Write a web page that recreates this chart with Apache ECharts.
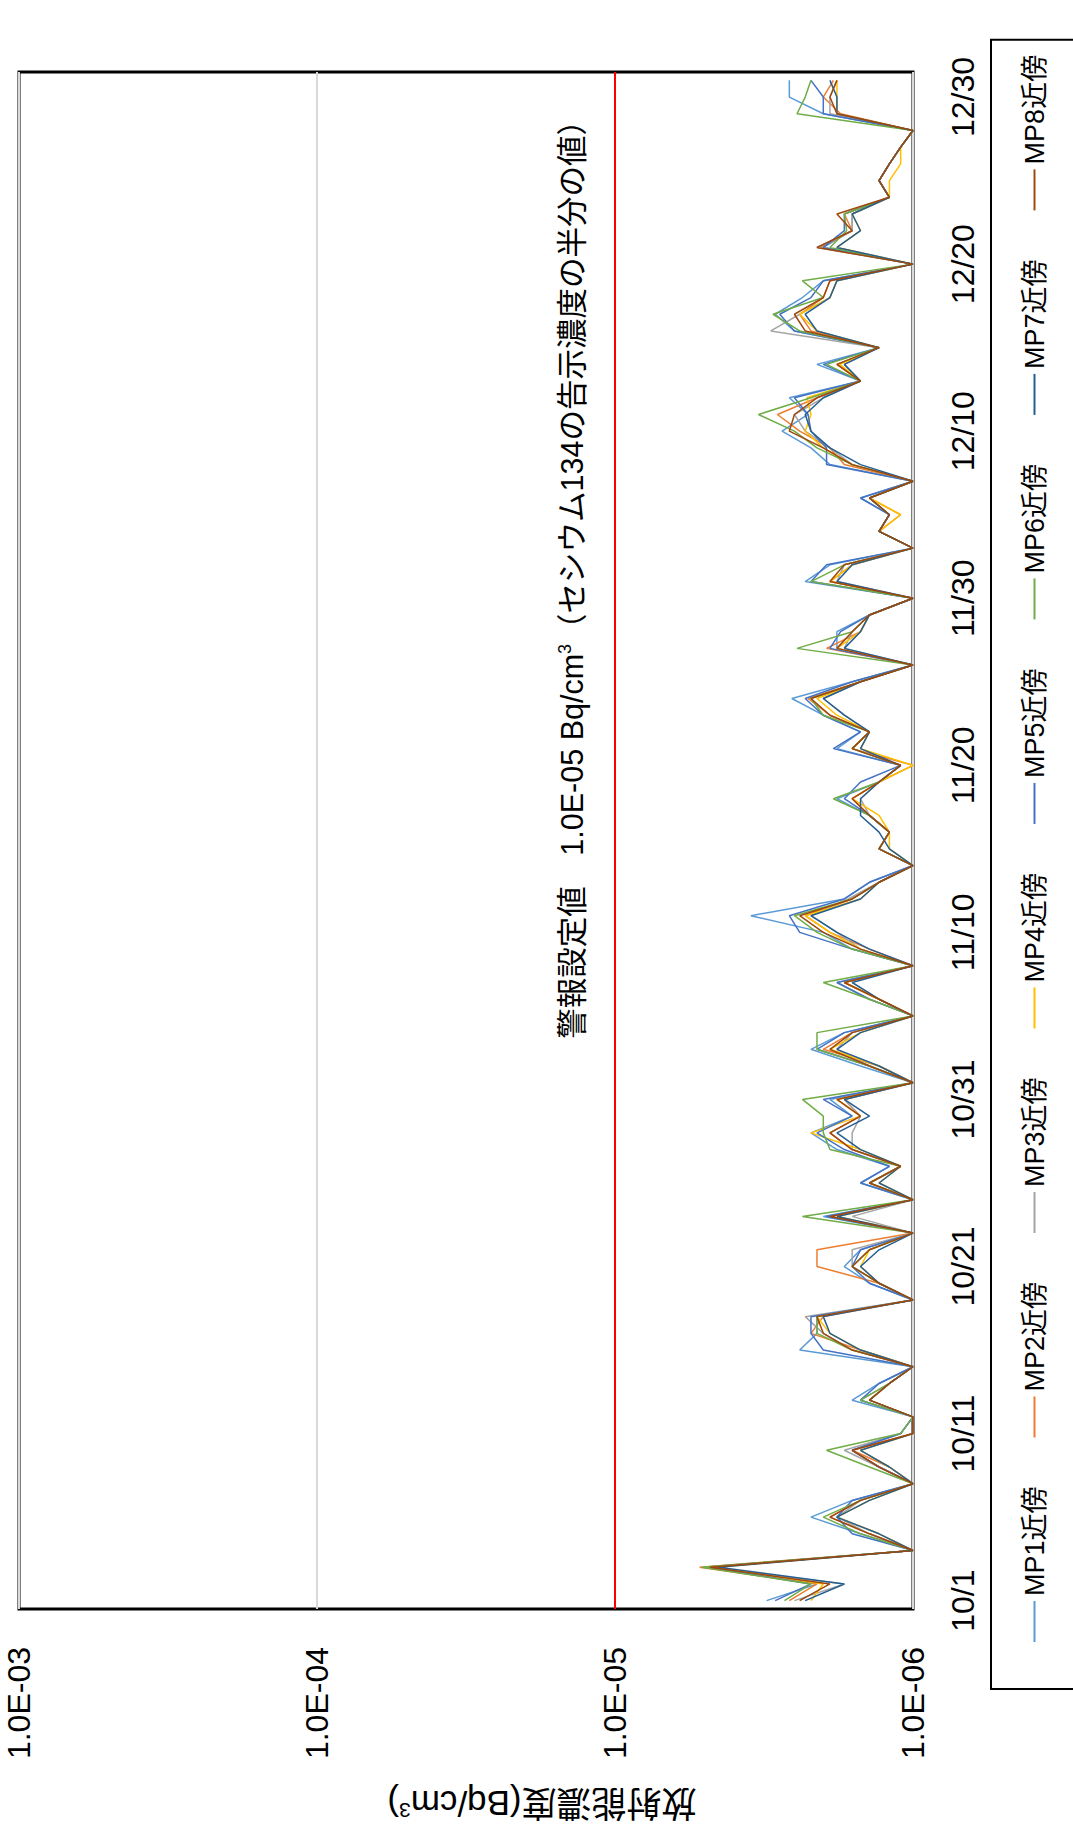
<!DOCTYPE html>
<html><head><meta charset="utf-8">
<script src="https://cdn.jsdelivr.net/npm/echarts@6/dist/echarts.min.js"></script>
<style>
html,body{margin:0;padding:0;background:#fff;width:1073px;height:1832px;overflow:hidden}
#rot{position:absolute;left:0;top:0;width:1832px;height:1073px;transform-origin:0 0;transform:translateY(1832px) rotate(-90deg)}
#chart{width:1832px;height:1073px}
</style></head><body>
<div id="rot"><div id="chart"></div></div>
<script>
// categories: daily dates 10/1 .. 12/31
const months = [[10,31],[11,30],[12,31]];
const dates = [];
months.forEach(([m,n])=>{for(let d=1;d<=n;d++)dates.push(m+'/'+d);});
const yTickLabels = {'-6':'1.0E-06','-5':'1.0E-05','-4':'1.0E-04','-3':'1.0E-03'};
const seriesNames = ['MP1近傍','MP2近傍','MP3近傍','MP4近傍','MP5近傍','MP6近傍','MP7近傍','MP8近傍'];
const alarmLevel = 1.0e-5;
// values in units of 1E-06 Bq/cm3
const mp1 = [3.1,2.1,5.0,1.0,1.5,2.2,1.6,1.0,1.3,1.6, 1.1,1.0,1.6,1.3,1.0,2.4,2.1,2.1,1.0,1.4, 1.7,1.5,1.0,2.0,1.0,1.5,1.2,1.8,2.2,1.6, 1.9,1.0,1.5,2.2,1.7,1.0,1.3,1.7,1.0,1.6, 2.0,3.5,1.7,1.4,1.0,1.3,1.2,1.4,1.8,1.3, 1.1,1.8,1.5,2.0,2.55,1.6,1.0,1.8,1.8,1.4, 1.0,2.3,1.9,1.0,1.3,1.2,1.5,1.0,1.9,2.2, 2.75,2.25,2.6,1.5,2.1,1.3,2.5,2.9,2.35,2.0, 1.0,2.0,1.6,1.6,1.2,1.3,1.2,1.1,1.0,2.0, 2.6,2.6];
const mp2 = [2.6,2.1,5.2,1.0,1.4,1.9,1.5,1.0,1.2,1.6, 1.0,1.0,1.4,1.2,1.0,1.5,2.2,2.0,1.0,1.3, 2.1,2.1,1.0,1.9,1.0,1.4,1.1,1.6,1.9,1.5, 1.7,1.0,1.3,2.0,1.6,1.0,1.3,1.7,1.0,1.4, 1.9,2.3,1.6,1.3,1.0,1.3,1.2,1.4,1.6,1.3, 1.0,1.6,1.4,1.9,2.25,1.5,1.0,1.95,1.5,1.4, 1.0,1.9,1.6,1.0,1.3,1.1,1.4,1.0,1.7,1.9, 2.4,2.85,2.1,1.5,1.8,1.3,2.2,2.4,2.0,1.9, 1.0,2.05,1.6,1.7,1.2,1.3,1.2,1.1,1.0,1.75, 2.0,1.85];
const mp3 = [2.5,1.7,5.0,1.0,1.4,1.8,1.5,1.0,1.3,1.7, 1.1,1.0,1.5,1.2,1.0,1.6,2.0,2.3,1.0,1.3, 1.6,1.6,1.0,1.6,1.0,1.4,1.1,1.6,1.6,1.5, 1.7,1.0,1.4,1.8,1.6,1.0,1.4,1.8,1.0,1.5, 1.8,2.2,1.65,1.3,1.0,1.3,1.2,1.4,1.5,1.3, 1.1,1.6,1.4,1.7,2.0,1.5,1.0,1.7,1.6,1.4, 1.0,1.8,1.7,1.0,1.3,1.2,1.4,1.0,1.6,1.9, 2.3,2.5,2.0,1.5,1.7,1.3,3.0,2.4,1.9,1.8, 1.0,2.1,1.6,1.6,1.2,1.3,1.2,1.1,1.0,1.9, 1.9,1.8];
const mp4 = [2.2,2.0,4.6,1.0,1.3,1.8,1.4,1.0,1.2,1.5, 1.0,1.0,1.4,1.2,1.0,1.5,1.9,2.1,1.0,1.3, 1.5,1.4,1.0,1.8,1.0,1.3,1.1,1.5,2.2,1.5, 1.8,1.0,1.3,1.9,1.5,1.0,1.3,1.7,1.0,1.5, 1.9,2.3,1.5,1.3,1.0,1.2,1.2,1.3,1.6,1.3, 1.0,1.5,1.4,1.8,2.1,1.5,1.0,1.8,1.5,1.4, 1.0,1.9,1.6,1.0,1.3,1.1,1.4,1.0,1.6,2.0, 2.3,2.2,2.27,1.5,1.76,1.3,2.1,2.4,1.9,1.8, 1.0,1.8,1.5,1.6,1.2,1.2,1.1,1.1,1.0,1.8, 1.8,1.8];
const mp5 = [2.9,2.2,4.9,1.0,1.6,1.8,1.6,1.0,1.3,1.6, 1.1,1.0,1.5,1.3,1.0,2.0,2.2,2.2,1.0,1.4, 1.6,1.5,1.0,1.95,1.0,1.5,1.2,1.7,2.1,1.6, 2.0,1.0,1.4,2.1,1.7,1.0,1.4,1.8,1.0,1.6, 2.4,2.6,1.7,1.4,1.0,1.3,1.2,1.4,1.7,1.5, 1.1,1.85,1.5,2.0,2.3,1.6,1.0,1.9,1.75,1.4, 1.0,2.2,1.95,1.0,1.3,1.2,1.5,1.0,1.95,1.95, 2.2,2.25,2.5,1.5,2.0,1.3,2.5,2.8,2.2,2.0, 1.0,2.0,1.7,1.7,1.2,1.3,1.2,1.1,1.0,2.0, 2.0,2.2];
const mp6 = [2.7,2.2,5.1,1.0,1.5,2.0,1.5,1.0,1.4,1.95, 1.1,1.0,1.5,1.2,1.0,1.6,2.1,2.1,1.0,1.3, 1.6,1.4,1.0,2.35,1.0,1.4,1.1,1.9,2.0,2.0, 2.35,1.0,1.4,2.1,2.1,1.0,1.4,2.0,1.0,1.6, 2.1,2.5,1.6,1.3,1.0,1.3,1.2,1.4,1.85,1.3, 1.1,1.6,1.4,2.0,2.2,1.5,1.0,2.45,1.6,1.4, 1.0,2.2,1.7,1.0,1.3,1.2,1.4,1.0,1.6,2.1, 2.5,3.3,2.2,1.5,1.95,1.3,2.4,2.95,2.0,2.35, 1.0,1.9,1.67,1.7,1.2,1.3,1.2,1.1,1.0,2.45, 2.3,2.2];
const mp7 = [2.3,1.7,4.5,1.0,1.3,1.8,1.4,1.0,1.2,1.5, 1.0,1.0,1.4,1.2,1.0,1.5,1.9,2.0,1.0,1.3, 1.5,1.3,1.0,1.8,1.0,1.3,1.1,1.5,1.8,1.4, 1.7,1.0,1.3,1.8,1.5,1.0,1.3,1.6,1.0,1.4, 1.8,2.2,1.5,1.3,1.0,1.2,1.3,1.5,1.5,1.3, 1.1,1.5,1.4,1.7,2.0,1.5,1.0,1.7,1.5,1.4, 1.0,1.8,1.6,1.0,1.3,1.2,1.4,1.0,1.5,1.9, 2.2,2.3,2.0,1.5,1.7,1.3,2.1,2.3,1.9,1.8, 1.0,1.8,1.5,1.6,1.2,1.3,1.2,1.1,1.0,1.8, 1.8,1.9];
const mp8 = [2.4,1.9,4.8,1.0,1.4,1.9,1.5,1.0,1.3,1.6, 1.0,1.0,1.4,1.2,1.0,1.6,2.0,2.1,1.0,1.3, 1.6,1.4,1.0,1.9,1.0,1.4,1.1,1.6,1.9,1.5, 1.8,1.0,1.4,1.9,1.6,1.0,1.3,1.7,1.0,1.5, 2.0,2.4,1.6,1.3,1.0,1.3,1.2,1.4,1.6,1.3, 1.1,1.6,1.4,1.9,2.2,1.5,1.0,1.8,1.6,1.4, 1.0,1.9,1.7,1.0,1.3,1.2,1.4,1.0,1.6,2.0, 2.6,2.5,2.1,1.5,1.8,1.3,2.3,2.5,2.0,1.9, 1.0,2.1,1.6,1.8,1.2,1.3,1.2,1.1,1.0,1.8, 1.9,1.8];
const seriesValues = [mp1,mp2,mp3,mp4,mp5,mp6,mp7,mp8];
const colors = ['#5B9BD5','#ED7D31','#A5A5A5','#FFC000','#4472C4','#70AD47','#255E91','#9E480E'];

const FONT = "'Liberation Sans','Noto Sans CJK JP',sans-serif";
const chart = echarts.init(document.getElementById('chart'), null, {renderer:'svg'});
const series = seriesNames.map((name,i)=>({
  name, type:'line', data: seriesValues[i].map(v=>v*1e-6),
  symbol:'none', showSymbol:false, clip:true,
  lineStyle:{width:1.5, color:colors[i]}, itemStyle:{color:colors[i]},
  z: 2+i
}));
chart.setOption({
  animation:false,
  color: colors,
  textStyle:{fontFamily:FONT},
  grid:{left:223, right:72, top:19, bottom:160, show:true, borderColor:'#000', borderWidth:3, backgroundColor:'transparent'},
  xAxis:{
    type:'category', data:dates, boundaryGap:true,
    axisLine:{show:false}, axisTick:{show:false},
    axisLabel:{interval:9, fontSize:32, color:'#000', margin:34, fontFamily:FONT},
    splitLine:{show:false}
  },
  yAxis:{
    type:'log', logBase:10, min:1e-6, max:1e-3,
    axisLine:{show:false}, axisTick:{show:false},
    axisLabel:{fontSize:32, color:'#000', margin:38, fontFamily:FONT,
      formatter:v=>yTickLabels[String(Math.round(Math.log10(v)))]||''},
    // the 1.0E-05 gridline is the red alarm-level line
    splitLine:{show:true, showMinLine:true, lineStyle:{color:['#D9D9D9','#FF0000','#D9D9D9','#D9D9D9'], width:2}}
  },
  legend:{
    left:143, top:991, orient:'horizontal',
    icon:'rect', itemWidth:41, itemHeight:2, itemGap:49,
    borderColor:'#000', borderWidth:2, padding:[30,15,30,47],
    textStyle:{fontSize:27, color:'#000', fontFamily:FONT},
    data: seriesNames
  },
  graphic:[
    {type:'text', right:105, top:556, z:100,
     style:{text:'{a|警報設定値\u30001.0E-05 Bq/cm}{s|3}{a|（セシウム134の告示濃度の半分の値）}',
       rich:{a:{fontSize:30.5, fontFamily:FONT, fill:'#000'}, s:{fontSize:18, fontFamily:FONT, fill:'#000', verticalAlign:'top', padding:[0,0,14,0]}}}},
    {type:'text', x:29, y:542, rotation:Math.PI/2, z:100,
     style:{text:'{a|放射能濃度(Bq/cm}{s|3}{a|)}', align:'center', verticalAlign:'middle',
       rich:{a:{fontSize:35, fontFamily:FONT, fill:'#000'}, s:{fontSize:21, fontFamily:FONT, fill:'#000', padding:[0,0,14,0]}}}}
  ],
  series
});
</script>
</body></html>
